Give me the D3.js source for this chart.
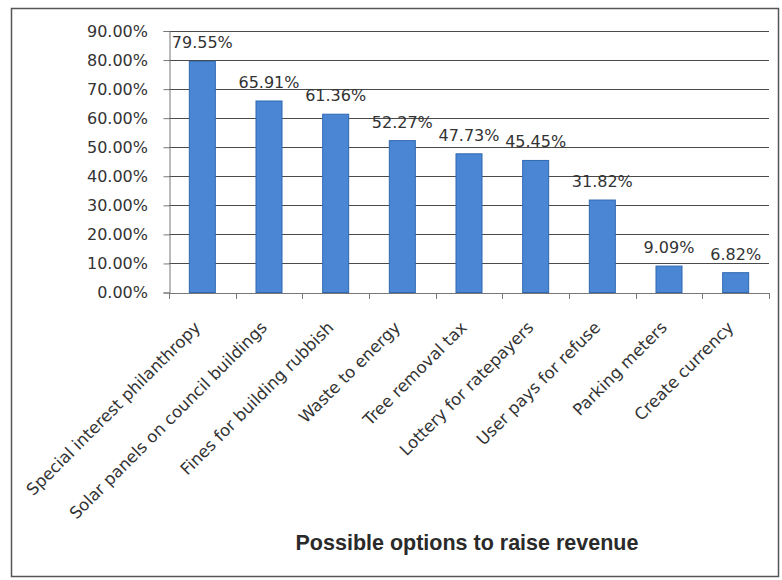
<!DOCTYPE html>
<html>
<head>
<meta charset="utf-8">
<script src="https://cdn.jsdelivr.net/npm/d3@7"></script>
<style>
  html, body { margin: 0; padding: 0; background: #fff; }
  svg { display: block; }
</style>
</head>
<body>
<svg id="chart" width="782" height="580"></svg>
<script>
// Survey results: share of respondents supporting each revenue option
const categories = [
  "Special interest philanthropy",
  "Solar panels on council buildings",
  "Fines for building rubbish",
  "Waste to energy",
  "Tree removal tax",
  "Lottery for ratepayers",
  "User pays for refuse",
  "Parking meters",
  "Create currency"
];
const values = [79.55, 65.91, 61.36, 52.27, 47.73, 45.45, 31.82, 9.09, 6.82];
const yTicks = [0, 10, 20, 30, 40, 50, 60, 70, 80, 90];
const xTitle = "Possible options to raise revenue";

const svg = d3.select("#chart");
const plot = { left: 169, right: 769, top: 31, bottom: 292.5 };

// outer frame
svg.append("rect")
  .attr("x", 11.5).attr("y", 8.5)
  .attr("width", 767).attr("height", 568)
  .attr("fill", "#fff").attr("stroke", "#555").attr("stroke-width", 1.5);

const x = d3.scaleBand()
  .domain(categories)
  .range([plot.left, plot.right])
  .paddingInner(0.61).paddingOuter(0.305);

const y = d3.scaleLinear()
  .domain([0, 90])
  .range([plot.bottom, plot.top]);

const fmt = v => v.toFixed(2) + "%";
const font = "'DejaVu Sans', sans-serif";

// horizontal gridlines
svg.append("g")
  .selectAll("line")
  .data(yTicks.filter(t => t > 0))
  .join("line")
  .attr("x1", plot.left).attr("x2", plot.right)
  .attr("y1", d => Math.round(y(d)) + 0.5).attr("y2", d => Math.round(y(d)) + 0.5)
  .attr("stroke", "#4a4a4a").attr("stroke-width", 1);

// y axis
const yAxis = svg.append("g")
  .attr("transform", `translate(${plot.left + 0.5},0)`)
  .call(d3.axisLeft(y).tickValues(yTicks).tickFormat(fmt).tickSize(6).tickPadding(15.5));
yAxis.select(".domain").attr("stroke", "#777");
yAxis.selectAll(".tick line").attr("stroke", "#777");
yAxis.selectAll("text")
  .attr("font-family", font).attr("font-size", 16).attr("fill", "#333");

// x axis with ticks between categories
const boundaries = d3.range(categories.length + 1).map(i => plot.left + i * x.step());
const xAxisG = svg.append("g");
xAxisG.append("line")
  .attr("x1", plot.left).attr("x2", plot.right)
  .attr("y1", Math.round(plot.bottom) + 0.5).attr("y2", Math.round(plot.bottom) + 0.5)
  .attr("stroke", "#777");
xAxisG.selectAll("line.tk")
  .data(boundaries)
  .join("line").attr("class", "tk")
  .attr("x1", d => Math.round(d) + 0.5).attr("x2", d => Math.round(d) + 0.5)
  .attr("y1", Math.round(plot.bottom)).attr("y2", Math.round(plot.bottom) + 6)
  .attr("stroke", "#777");

// bars
svg.append("g")
  .selectAll("rect")
  .data(values)
  .join("rect")
  .attr("x", (d, i) => x(categories[i]))
  .attr("y", d => y(d))
  .attr("width", x.bandwidth())
  .attr("height", d => y(0) - y(d))
  .attr("fill", "#4a86d4")
  .attr("stroke", "#2f68b0").attr("stroke-width", 1);

// value labels
svg.append("g")
  .selectAll("text")
  .data(values)
  .join("text")
  .attr("x", (d, i) => x(categories[i]) + x.bandwidth() / 2)
  .attr("y", d => y(d) - 13)
  .attr("text-anchor", "middle")
  .attr("font-family", font).attr("font-size", 16).attr("fill", "#333")
  .text(fmt);

// rotated category labels
svg.append("g")
  .selectAll("text")
  .data(categories)
  .join("text")
  .attr("transform", d => `translate(${x(d) + x.bandwidth() / 2 - 1},${plot.bottom + 36}) rotate(-45)`)
  .attr("text-anchor", "end")
  .attr("font-family", font).attr("font-size", 16.5).attr("fill", "#333")
  .text(d => d);

// axis title
svg.append("text")
  .attr("x", 467).attr("y", 550)
  .attr("text-anchor", "middle")
  .attr("font-family", "'Liberation Sans', Arial, sans-serif")
  .attr("font-weight", "bold").attr("font-size", 21.5).attr("fill", "#2a2a2a")
  .text(xTitle);
</script>
</body>
</html>
